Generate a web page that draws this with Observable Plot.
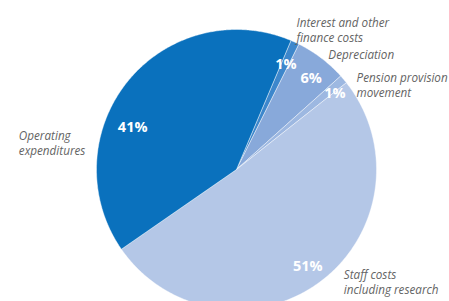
<!DOCTYPE html>
<html><head><meta charset="utf-8">
<script src="https://cdn.jsdelivr.net/npm/d3@7"></script>
<script src="https://cdn.jsdelivr.net/npm/@observablehq/plot@0.6"></script>
<style>
html,body{margin:0;padding:0;background:#fff;overflow:hidden}
#wrap{position:relative;width:449px;height:301px;overflow:hidden}
#title{position:absolute;left:23px;top:-37px;font:28px "Open Sans";color:#222;white-space:nowrap;line-height:normal}
#chart svg{display:block}
</style></head><body>
<div id="wrap"><div id="title">Expenditure by nature</div><div id="chart"></div></div>
<script>
// ---- data ----
const categories = ["Interest and other finance costs", "Depreciation", "Pension provision movement", "Staff costs including research", "Operating expenditures"];
const labelText = ["Interest and other\nfinance costs", "Depreciation", "Pension provision\nmovement", "Staff costs\nincluding research", "Operating\nexpenditures"];
const values = [1, 6, 1, 51, 41];
const pctLabels = ["1%", "6%", "1%", "51%", "41%"];
const colors = ["#3d87cc", "#88a9da", "#9db8e1", "#b4c7e7", "#0a71bd"];

// ---- layout (styling) ----
const W = 449, H = 301, cx = 236, cy = 169, R = 140;
const startDeg = 22.9;
// pixel nudges of percentage labels from mid-angle point at r=0.845
const pctNudge = [[0, 2], [3, 3], [8, 0], [1, 2], [-12, 32]];
// pixel offsets of category labels from rim point at mid-angle
const catNudge = [[1.5, -26], [7, -10], [13, -8], [24, -14], [-109, 48]];

const rows = categories.map((c, i) => ({cat: c, value: values[i], pct: pctLabels[i], label: labelText[i], i}));
const a0 = startDeg * Math.PI / 180;
const arcs = d3.pie().sort(null).value(d => d.value).startAngle(a0).endAngle(a0 + 2 * Math.PI)(rows);

const poly = [];
arcs.forEach(a => {
  const n = Math.max(3, Math.ceil((a.endAngle - a.startAngle) / (Math.PI / 360)));
  poly.push({cat: a.data.cat, x: 0, y: 0});
  for (let k = 0; k <= n; k++) {
    const t = a.startAngle + (a.endAngle - a.startAngle) * k / n;
    poly.push({cat: a.data.cat, x: Math.sin(t), y: Math.cos(t)});
  }
  poly.push({cat: a.data.cat, x: 0, y: 0});
});

const pctPts = arcs.map(a => {
  const m = (a.startAngle + a.endAngle) / 2, i = a.data.i;
  return {text: a.data.pct, x: 0.845 * Math.sin(m) + pctNudge[i][0] / R, y: 0.845 * Math.cos(m) - pctNudge[i][1] / R};
});
const catPts = arcs.map(a => {
  const m = (a.startAngle + a.endAngle) / 2, i = a.data.i;
  return {text: a.data.label, x: Math.sin(m) + catNudge[i][0] / R, y: Math.cos(m) - catNudge[i][1] / R};
});

const chart = Plot.plot({
  width: W, height: H,
  margin: 0,
  style: {background: "#fff", fontFamily: "'Open Sans', sans-serif", overflow: "hidden"},
  x: {domain: [-1, 1], range: [cx - R, cx + R], axis: null},
  y: {domain: [-1, 1], range: [cy + R, cy - R], axis: null},
  color: {domain: categories, range: colors},
  marks: [
    Plot.line(poly, {x: "x", y: "y", z: "cat", fill: "cat", stroke: "#ffffff", strokeWidth: 0.7, strokeOpacity: 0.6, curve: "linear"}),
    Plot.text(pctPts, {x: "x", y: "y", text: "text", fill: "white", fontSize: 14.5, fontWeight: "bold", textAnchor: "middle", style: "letter-spacing:0.9px"}),
    Plot.text(catPts, {x: "x", y: "y", text: "text", fill: "#646464", fontSize: 11.7, fontStyle: "italic", textAnchor: "start", lineAnchor: "top", lineHeight: 1.3})
  ]
});
document.getElementById("chart").appendChild(chart);
</script>
</body></html>
